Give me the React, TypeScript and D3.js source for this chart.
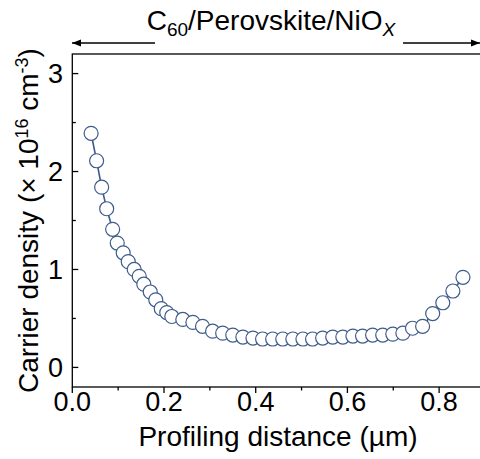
import { useEffect, useRef } from 'react';
import * as d3 from 'd3';

// profiling distance (µm) and carrier density (×10^16 cm^-3)
const depthUm = [
  0.041, 0.053, 0.064, 0.075, 0.088, 0.098, 0.111, 0.122, 0.135, 0.146, 0.156,
  0.170, 0.182, 0.194, 0.206, 0.217, 0.241, 0.263, 0.284, 0.306, 0.328, 0.350,
  0.372, 0.394, 0.415, 0.437, 0.459, 0.481, 0.503, 0.524, 0.546, 0.568, 0.590,
  0.612, 0.633, 0.655, 0.677, 0.699, 0.721, 0.742, 0.764, 0.786, 0.808, 0.830,
  0.852,
];
const density = [
  2.39, 2.11, 1.84, 1.62, 1.41, 1.27, 1.17, 1.08, 1.0, 0.93, 0.85,
  0.77, 0.69, 0.6, 0.56, 0.52, 0.49, 0.46, 0.42, 0.37, 0.35, 0.33,
  0.31, 0.3, 0.29, 0.29, 0.29, 0.29, 0.29, 0.29, 0.3, 0.31, 0.31,
  0.32, 0.32, 0.33, 0.33, 0.34, 0.35, 0.4, 0.42, 0.55, 0.66, 0.78,
  0.92,
];
const xTicks = [0, 0.2, 0.4, 0.6, 0.8];
const xMinorTicks = [0.1, 0.3, 0.5, 0.7];
const yTicks = [0, 1, 2, 3];
const yMinorTicks = [0.5, 1.5, 2.5];

const FONT = 'Liberation Sans, Arial, sans-serif';
const MARK = '#3f5b8a';

function CarrierProfile() {
  const svgRef = useRef<SVGSVGElement>(null);

  useEffect(() => {
    if (!svgRef.current) return;
    const svg = d3.select(svgRef.current);
    svg.selectAll('*').remove();

    const left = 72.3, right = 481.3, top = 54, bottom = 387;

    const x = d3.scaleLinear().domain([0, 0.892]).range([left, right]);
    const y = d3.scaleLinear().domain([-0.2, 3.2]).range([bottom, top]);

    const defs = svg.append('defs');
    defs.append('marker')
      .attr('id', 'arrowHead')
      .attr('viewBox', '0 0 10 10')
      .attr('refX', 10)
      .attr('refY', 5)
      .attr('markerWidth', 9)
      .attr('markerHeight', 9)
      .attr('markerUnits', 'userSpaceOnUse')
      .attr('orient', 'auto')
      .append('path')
      .attr('d', 'M0,1 L10,5 L0,9 Z')
      .attr('fill', '#000');

    // frame (right side sits just past the picture edge)
    svg.append('rect')
      .attr('x', left)
      .attr('y', top)
      .attr('width', right - left)
      .attr('height', bottom - top)
      .attr('fill', 'none')
      .attr('stroke', '#000')
      .attr('stroke-width', 1.3);

    // y ticks, pointing inward
    svg.append('g')
      .selectAll('line')
      .data(yTicks)
      .join('line')
      .attr('x1', left).attr('x2', left + 6)
      .attr('y1', d => y(d)).attr('y2', d => y(d))
      .attr('stroke', '#000').attr('stroke-width', 1.3);
    svg.append('g')
      .selectAll('line')
      .data(yMinorTicks)
      .join('line')
      .attr('x1', left).attr('x2', left + 3.5)
      .attr('y1', d => y(d)).attr('y2', d => y(d))
      .attr('stroke', '#000').attr('stroke-width', 1.3);
    svg.append('g')
      .selectAll('text')
      .data(yTicks)
      .join('text')
      .attr('x', 63)
      .attr('y', d => y(d))
      .attr('dy', '0.36em')
      .attr('text-anchor', 'end')
      .attr('font-family', FONT)
      .attr('font-size', 27)
      .text(d => `${d}`);

    // x ticks, pointing outward
    svg.append('g')
      .selectAll('line')
      .data(xTicks)
      .join('line')
      .attr('x1', d => x(d)).attr('x2', d => x(d))
      .attr('y1', bottom).attr('y2', bottom + 6)
      .attr('stroke', '#000').attr('stroke-width', 1.3);
    svg.append('g')
      .selectAll('line')
      .data(xMinorTicks)
      .join('line')
      .attr('x1', d => x(d)).attr('x2', d => x(d))
      .attr('y1', bottom).attr('y2', bottom + 3.5)
      .attr('stroke', '#000').attr('stroke-width', 1.3);
    svg.append('g')
      .selectAll('text')
      .data(xTicks)
      .join('text')
      .attr('x', d => x(d))
      .attr('y', 411)
      .attr('text-anchor', 'middle')
      .attr('font-family', FONT)
      .attr('font-size', 27)
      .text(d => d3.format('.1f')(d));

    // axis titles
    svg.append('text')
      .attr('x', 278)
      .attr('y', 446)
      .attr('text-anchor', 'middle')
      .attr('font-family', FONT)
      .attr('font-size', 28)
      .text('Profiling distance (µm)');

    const yTitle = svg.append('text')
      .attr('transform', `translate(38,${(top + bottom) / 2}) rotate(-90)`)
      .attr('text-anchor', 'middle')
      .attr('font-family', FONT)
      .attr('font-size', 28);
    yTitle.append('tspan').text('Carrier density (× 10');
    yTitle.append('tspan').attr('dy', -10).attr('font-size', 18).text('16');
    yTitle.append('tspan').attr('dy', 10).text(' cm');
    yTitle.append('tspan').attr('dy', -10).attr('font-size', 18).text('-3');
    yTitle.append('tspan').attr('dy', 10).text(')');

    // header with arrows
    const title = svg.append('text')
      .attr('x', 271)
      .attr('y', 30)
      .attr('text-anchor', 'middle')
      .attr('font-family', FONT)
      .attr('font-size', 28);
    title.append('tspan').text('C');
    title.append('tspan').attr('dy', 6).attr('font-size', 19).text('60');
    title.append('tspan').attr('dy', -6).text('/Perovskite/NiO');
    title.append('tspan').attr('dy', 6).attr('font-size', 19).attr('font-style', 'italic').text('X');

    svg.append('line')
      .attr('x1', 155).attr('x2', 72)
      .attr('y1', 43).attr('y2', 43)
      .attr('stroke', '#000').attr('stroke-width', 1.3)
      .attr('marker-end', 'url(#arrowHead)');
    svg.append('line')
      .attr('x1', 403).attr('x2', 480)
      .attr('y1', 43).attr('y2', 43)
      .attr('stroke', '#000').attr('stroke-width', 1.3)
      .attr('marker-end', 'url(#arrowHead)');

    // data
    const points = depthUm.map((d, i) => [d, density[i]] as [number, number]);
    const line = d3.line<[number, number]>()
      .x(d => x(d[0]))
      .y(d => y(d[1]));

    svg.append('path')
      .datum(points)
      .attr('d', line)
      .attr('fill', 'none')
      .attr('stroke', MARK)
      .attr('stroke-width', 1.6);

    svg.append('g')
      .selectAll('circle')
      .data(points)
      .join('circle')
      .attr('cx', d => x(d[0]))
      .attr('cy', d => y(d[1]))
      .attr('r', 7)
      .attr('fill', '#fff')
      .attr('stroke', MARK)
      .attr('stroke-width', 1.2);
  }, []);

  return (
    <svg
      ref={svgRef}
      width={480}
      height={459}
      style={{ position: 'absolute', left: 0, top: 0, display: 'block', background: '#fff' }}
    ></svg>
  );
}

export default function App() {
  return <CarrierProfile />;
}
